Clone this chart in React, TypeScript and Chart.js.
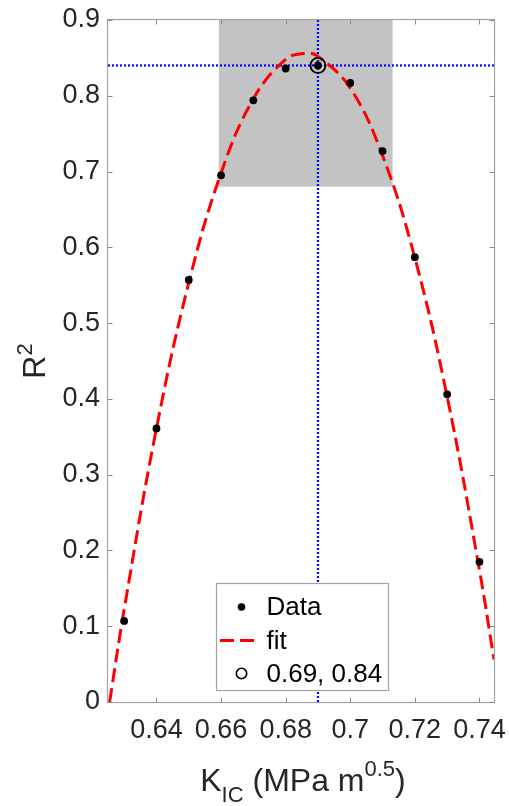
import React, { useEffect, useRef } from "react";
import { Chart, registerables } from "chart.js";

Chart.register(...registerables);

// ---- data ----
const kValues = [0.63, 0.64, 0.65, 0.66, 0.67, 0.68, 0.69, 0.7, 0.71, 0.72, 0.73, 0.74];
const r2Values = [0.107, 0.361, 0.557, 0.695, 0.794, 0.836, 0.84, 0.817, 0.727, 0.587, 0.406, 0.185];

const fitK = [0.6255, 0.63, 0.64, 0.65, 0.66, 0.67, 0.68, 0.686, 0.69, 0.7, 0.71, 0.72, 0.73, 0.74, 0.7445];
const fitR2 = [0.0, 0.122, 0.361, 0.553, 0.698, 0.796, 0.848, 0.856, 0.852, 0.81, 0.721, 0.586, 0.403, 0.174, 0.056];

const bestK = 0.69;
const bestR2 = 0.84;
const bestLabel = "0.69, 0.84";

const bandK = [0.6593, 0.7131];
const bandR2 = [0.68, 0.9];

const xRange = [0.625, 0.7445];
const yRange = [0, 0.9];

const xTicks = [0.64, 0.66, 0.68, 0.7, 0.72, 0.74];
const xTickLabels = ["0.64", "0.66", "0.68", "0.7", "0.72", "0.74"];
const yTicks = [0, 0.1, 0.2, 0.3, 0.4, 0.5, 0.6, 0.7, 0.8, 0.9];
const yTickLabels = ["0", "0.1", "0.2", "0.3", "0.4", "0.5", "0.6", "0.7", "0.8", "0.9"];

const legendLabels = ["Data", "fit", bestLabel];

const FONT = '"Liberation Sans", Arial, Helvetica, sans-serif';
const AXIS_GRAY = "#a3a3a3";
const TEXT = "#262626";

function lookup(ticks: number[], labels: string[], v: number) {
  const i = ticks.findIndex((t) => Math.abs(t - v) < 1e-9);
  return i >= 0 ? labels[i] : "";
}

const decorPlugin = {
  id: "decor",
  beforeDatasetsDraw(chart: any) {
    const { ctx, scales } = chart;
    const x = scales.x;
    const y = scales.y;
    ctx.save();
    ctx.fillStyle = "#c3c3c3";
    const x0 = x.getPixelForValue(bandK[0]);
    const x1 = x.getPixelForValue(bandK[1]);
    const y0 = y.getPixelForValue(bandR2[1]);
    const y1 = y.getPixelForValue(bandR2[0]);
    ctx.fillRect(x0, y0, x1 - x0, y1 - y0);
    ctx.restore();
  },
  afterDatasetsDraw(chart: any) {
    const { ctx, chartArea: ca, scales } = chart;
    const x = scales.x;
    const y = scales.y;
    ctx.save();
    // frame
    ctx.strokeStyle = AXIS_GRAY;
    ctx.lineWidth = 1.2;
    const L = Math.round(ca.left) - 0.5;
    const R = Math.round(ca.right) + 0.5;
    const T = Math.round(ca.top) - 0.5;
    const B = Math.round(ca.bottom) + 0.5;
    ctx.strokeRect(L, T, R - L, B - T);
    // inward ticks
    ctx.strokeStyle = "#8a8a8a";
    ctx.lineWidth = 1;
    const tl = 5;
    ctx.beginPath();
    xTicks.forEach((v) => {
      const px = Math.round(x.getPixelForValue(v)) + 0.5;
      ctx.moveTo(px, B);
      ctx.lineTo(px, B - tl);
      ctx.moveTo(px, T);
      ctx.lineTo(px, T + tl);
    });
    yTicks.forEach((v) => {
      const py = Math.round(y.getPixelForValue(v)) + 0.5;
      ctx.moveTo(L, py);
      ctx.lineTo(L + tl, py);
      ctx.moveTo(R, py);
      ctx.lineTo(R - tl, py);
    });
    ctx.stroke();

    // legend
    const bx = ca.left + 108.5;
    const by = ca.top + 563.5;
    const bw = 172;
    const bh = 107;
    ctx.fillStyle = "#ffffff";
    ctx.fillRect(bx, by, bw, bh);
    ctx.strokeStyle = AXIS_GRAY;
    ctx.lineWidth = 1.2;
    ctx.strokeRect(bx, by, bw, bh);
    const rows = [by + 23.5, by + 57, by + 90];
    const symX = bx + 25;
    // Data dot
    ctx.fillStyle = "#000000";
    ctx.beginPath();
    ctx.arc(symX, rows[0], 3.8, 0, Math.PI * 2);
    ctx.fill();
    // fit dashed line
    ctx.strokeStyle = "#ff0000";
    ctx.lineWidth = 3;
    ctx.setLineDash([14, 6]);
    ctx.beginPath();
    ctx.moveTo(bx + 3.5, rows[1]);
    ctx.lineTo(bx + 37.5, rows[1]);
    ctx.stroke();
    ctx.setLineDash([]);
    // best circle
    ctx.strokeStyle = "#000000";
    ctx.lineWidth = 1.6;
    ctx.beginPath();
    ctx.arc(symX, rows[2], 5.2, 0, Math.PI * 2);
    ctx.stroke();
    // legend texts
    ctx.fillStyle = "#000000";
    ctx.font = `26px ${FONT}`;
    ctx.textAlign = "left";
    ctx.textBaseline = "middle";
    legendLabels.forEach((t, i) => {
      ctx.fillText(t, bx + 50, rows[i] + 1);
    });
    ctx.restore();
  },
  afterDraw(chart: any) {
    const { ctx, chartArea: ca } = chart;
    ctx.save();
    ctx.fillStyle = TEXT;
    ctx.textBaseline = "alphabetic";
    ctx.textAlign = "left";
    // x label: K_IC (MPa m^0.5)
    const main = 32;
    const small = 22;
    const segs = [
      { t: "K", s: main, dy: 0 },
      { t: "IC", s: small, dy: 11.5 },
      { t: " (MPa m", s: main, dy: 0 },
      { t: "0.5", s: small, dy: -15 },
      { t: ")", s: main, dy: 0 },
    ];
    let total = 0;
    segs.forEach((g) => {
      ctx.font = `${g.s}px ${FONT}`;
      total += ctx.measureText(g.t).width;
    });
    const cx = (ca.left + ca.right) / 2 + 2;
    let xx = cx - total / 2;
    const base = 790.5;
    segs.forEach((g) => {
      ctx.font = `${g.s}px ${FONT}`;
      ctx.fillText(g.t, xx, base + g.dy);
      xx += ctx.measureText(g.t).width;
    });

    // y label: R^2
    ctx.save();
    const cy = (ca.top + ca.bottom) / 2;
    ctx.translate(45, cy);
    ctx.rotate(-Math.PI / 2);
    ctx.font = `${main}px ${FONT}`;
    const wR = ctx.measureText("R").width;
    ctx.font = `${small}px ${FONT}`;
    const w2 = ctx.measureText("2").width;
    const start = -(wR + w2) / 2;
    ctx.font = `${main}px ${FONT}`;
    ctx.fillText("R", start, 0);
    ctx.font = `${small}px ${FONT}`;
    ctx.fillText("2", start + wR, -13);
    ctx.restore();
    ctx.restore();
  },
};

export default function App() {
  const canvasRef = useRef<HTMLCanvasElement | null>(null);

  useEffect(() => {
    if (!canvasRef.current) return;
    const fitData = fitK.map((k, i) => ({ x: k, y: fitR2[i] }));
    const pts = kValues.map((k, i) => ({ x: k, y: r2Values[i] }));

    const chart = new Chart(canvasRef.current, {
      type: "scatter",
      data: {
        datasets: [
          {
            label: bestLabel,
            data: [{ x: bestK, y: bestR2 }],
            pointRadius: 7.5,
            pointBorderWidth: 1.8,
            pointBorderColor: "#000000",
            pointBackgroundColor: "rgba(0,0,0,0)",
            showLine: false,
            order: 0,
          },
          {
            label: "Data",
            data: pts,
            pointRadius: 3.9,
            pointBorderWidth: 0,
            pointBackgroundColor: "#000000",
            showLine: false,
            order: 1,
          },
          {
            label: "fit",
            data: fitData,
            showLine: true,
            borderColor: "#ff0000",
            borderWidth: 3,
            borderDash: [14, 6],
            pointRadius: 0,
            tension: 0.4,
            order: 2,
          },
          {
            label: "h",
            data: [
              { x: xRange[0], y: bestR2 },
              { x: xRange[1], y: bestR2 },
            ],
            showLine: true,
            borderColor: "#0000ff",
            borderWidth: 2.2,
            borderDash: [2, 2],
            pointRadius: 0,
            order: 3,
          },
          {
            label: "v",
            data: [
              { x: bestK, y: yRange[0] },
              { x: bestK, y: yRange[1] },
            ],
            showLine: true,
            borderColor: "#0000ff",
            borderWidth: 2.2,
            borderDash: [2, 2],
            pointRadius: 0,
            order: 3,
          },
        ],
      },
      options: {
        responsive: false,
        animation: false,
        events: [],
        layout: { padding: { left: 0, right: 15, top: 20, bottom: 0 } },
        plugins: {
          legend: { display: false },
          tooltip: { enabled: false },
        },
        scales: {
          x: {
            type: "linear",
            min: xRange[0],
            max: xRange[1],
            afterBuildTicks: (s: any) => {
              s.ticks = xTicks.map((v) => ({ value: v }));
            },
            afterFit: (s: any) => {
              s.height = 104;
              s.paddingLeft = 0;
              s.paddingRight = 0;
              s.paddingTop = 0;
              s.paddingBottom = 0;
            },
            grid: { display: false, drawTicks: false },
            border: { display: false },
            ticks: {
              autoSkip: false,
              maxRotation: 0,
              minRotation: 0,
              padding: 12,
              color: TEXT,
              font: { size: 27, family: FONT },
              callback: (v: any) => lookup(xTicks, xTickLabels, Number(v)),
            },
          },
          y: {
            type: "linear",
            min: yRange[0],
            max: yRange[1],
            afterBuildTicks: (s: any) => {
              s.ticks = yTicks.map((v) => ({ value: v }));
            },
            afterFit: (s: any) => {
              s.width = 108;
              s.paddingLeft = 0;
              s.paddingRight = 0;
              s.paddingTop = 0;
              s.paddingBottom = 0;
            },
            grid: { display: false, drawTicks: false },
            border: { display: false },
            ticks: {
              autoSkip: false,
              padding: 8,
              color: TEXT,
              font: { size: 27, family: FONT },
              callback: (v: any) => lookup(yTicks, yTickLabels, Number(v)),
            },
          },
        },
      },
      plugins: [decorPlugin],
    });
    return () => chart.destroy();
  }, []);

  return (
    <div style={{ position: "absolute", left: 0, top: 0, width: 509, height: 806, background: "#ffffff" }}>
      <canvas ref={canvasRef} width={509} height={806} style={{ width: 509, height: 806, display: "block" }} />
    </div>
  );
}
